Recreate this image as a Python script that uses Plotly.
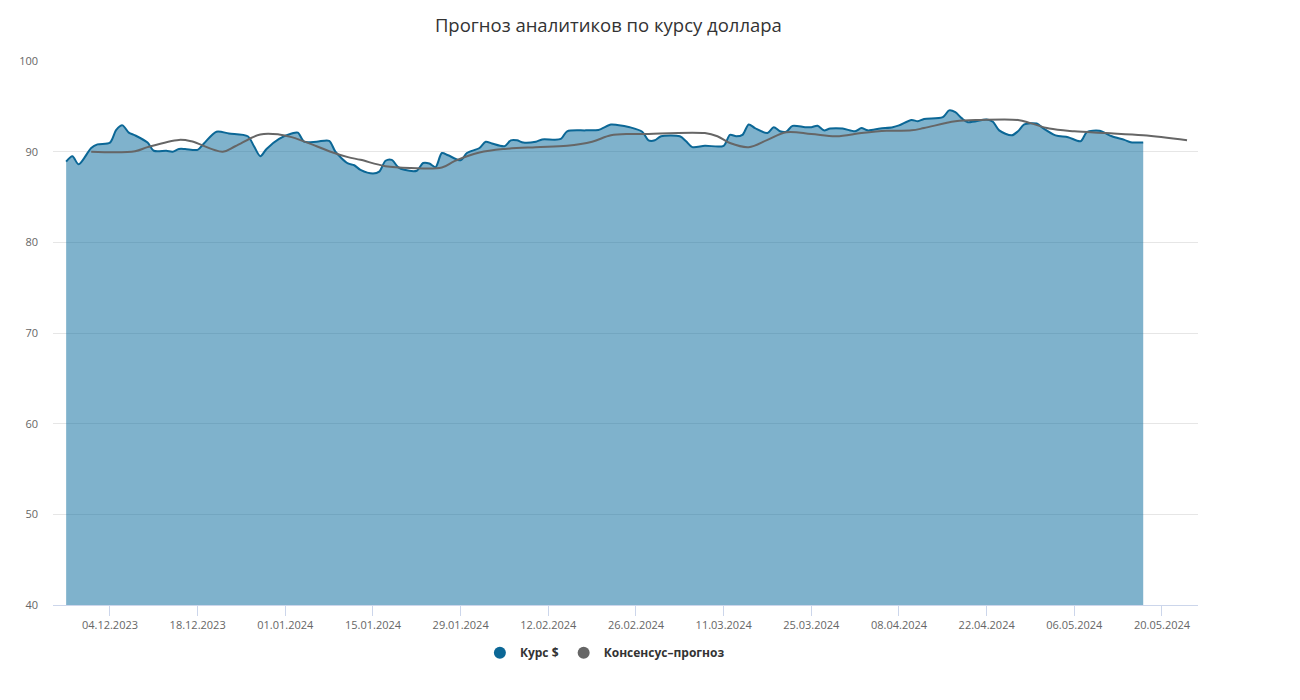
import plotly.graph_objects as go

kurs_dates = [
    "2023-11-27", "2023-11-28", "2023-11-29", "2023-12-01", "2023-12-02", "2023-12-04",
    "2023-12-05", "2023-12-06", "2023-12-07", "2023-12-08", "2023-12-10", "2023-12-11",
    "2023-12-13", "2023-12-14", "2023-12-15", "2023-12-16", "2023-12-18", "2023-12-19",
    "2023-12-21", "2023-12-23", "2023-12-26", "2023-12-27", "2023-12-28", "2023-12-29",
    "2023-12-31", "2024-01-02", "2024-01-03", "2024-01-04", "2024-01-06", "2024-01-08",
    "2024-01-09", "2024-01-11", "2024-01-12", "2024-01-13", "2024-01-15", "2024-01-16",
    "2024-01-17", "2024-01-18", "2024-01-19", "2024-01-20", "2024-01-22", "2024-01-23",
    "2024-01-24", "2024-01-25", "2024-01-26", "2024-01-27", "2024-01-29", "2024-01-30",
    "2024-02-01", "2024-02-02", "2024-02-03", "2024-02-05", "2024-02-06", "2024-02-07",
    "2024-02-08", "2024-02-10", "2024-02-11", "2024-02-14", "2024-02-15", "2024-02-18",
    "2024-02-20", "2024-02-22", "2024-02-23", "2024-02-25", "2024-02-27", "2024-02-28",
    "2024-02-29", "2024-03-01", "2024-03-04", "2024-03-05", "2024-03-06", "2024-03-08",
    "2024-03-11", "2024-03-12", "2024-03-13", "2024-03-14", "2024-03-15", "2024-03-16",
    "2024-03-18", "2024-03-19", "2024-03-20", "2024-03-21", "2024-03-22", "2024-03-24",
    "2024-03-25", "2024-03-26", "2024-03-27", "2024-03-28", "2024-03-30", "2024-04-01",
    "2024-04-02", "2024-04-03", "2024-04-05", "2024-04-07", "2024-04-08", "2024-04-10",
    "2024-04-11", "2024-04-12", "2024-04-15", "2024-04-16", "2024-04-17", "2024-04-18",
    "2024-04-19", "2024-04-22", "2024-04-23", "2024-04-24", "2024-04-26", "2024-04-27",
    "2024-04-28", "2024-04-30", "2024-05-01", "2024-05-03", "2024-05-05", "2024-05-07",
    "2024-05-08", "2024-05-10", "2024-05-12", "2024-05-14", "2024-05-15", "2024-05-17",
]
kurs_values = [
    88.9, 89.5, 88.6, 90.4, 90.8, 91.0,
    92.4, 92.9, 92.1, 91.8, 91.0, 90.1,
    90.1, 90.0, 90.3, 90.3, 90.2, 90.9,
    92.2, 92.0, 91.7, 90.6, 89.5, 90.3,
    91.4, 92.0, 92.1, 91.1, 91.1, 91.2,
    90.0, 88.7, 88.5, 88.0, 87.6, 87.8,
    89.0, 89.1, 88.3, 88.0, 87.9, 88.75,
    88.7, 88.3, 89.85, 89.6, 89.05, 89.85,
    90.4, 91.1, 90.9, 90.6, 91.25, 91.25,
    91.0, 91.1, 91.35, 91.4, 92.25, 92.35,
    92.4, 93.0, 92.95, 92.7, 92.2, 91.25,
    91.25, 91.7, 91.7, 91.15, 90.5, 90.65,
    90.65, 91.85, 91.7, 91.85, 93.0, 92.6,
    92.05, 92.7, 92.25, 92.2, 92.85, 92.7,
    92.7, 92.85, 92.35, 92.55, 92.55, 92.25,
    92.6, 92.35, 92.55, 92.7, 92.9, 93.5,
    93.35, 93.6, 93.8, 94.55, 94.35, 93.7,
    93.25, 93.55, 93.3, 92.35, 91.8, 92.25,
    93.0, 93.1, 92.6, 91.8, 91.6, 91.15,
    92.15, 92.3, 91.7, 91.3, 91.05, 91.0,
]

cons_dates = [
    "2023-12-01", "2023-12-08", "2023-12-10", "2023-12-15", "2023-12-17", "2023-12-22",
    "2023-12-24", "2023-12-28", "2023-12-31", "2024-01-02", "2024-01-06", "2024-01-08",
    "2024-01-11", "2024-01-13", "2024-01-17", "2024-01-21", "2024-01-26", "2024-01-28",
    "2024-02-01", "2024-02-05", "2024-02-10", "2024-02-15", "2024-02-19", "2024-02-22",
    "2024-02-25", "2024-02-27", "2024-03-08", "2024-03-10", "2024-03-12", "2024-03-15",
    "2024-03-18", "2024-03-21", "2024-03-25", "2024-03-29", "2024-04-02", "2024-04-06",
    "2024-04-10", "2024-04-12", "2024-04-17", "2024-04-21", "2024-04-27", "2024-04-29",
    "2024-05-02", "2024-05-06", "2024-05-11", "2024-05-17", "2024-05-24",
]
cons_values = [
    90.0, 90.05, 90.5, 91.3, 91.15, 90.0,
    90.6, 91.9, 91.9, 91.6, 90.6, 90.05,
    89.4, 89.1, 88.4, 88.2, 88.25, 88.95,
    89.9, 90.3, 90.5, 90.65, 91.1, 91.8,
    91.95, 91.95, 92.05, 91.7, 90.95, 90.5,
    91.3, 92.15, 91.95, 91.7, 92.05, 92.3,
    92.35, 92.6, 93.35, 93.5, 93.5, 93.15,
    92.55, 92.25, 92.05, 91.8, 91.25,
]

tick_dates = [
    "2023-12-04", "2023-12-18", "2024-01-01", "2024-01-15", "2024-01-29", "2024-02-12",
    "2024-02-26", "2024-03-11", "2024-03-25", "2024-04-08", "2024-04-22", "2024-05-06",
    "2024-05-20",
]
tick_labels = [
    "04.12.2023", "18.12.2023", "01.01.2024", "15.01.2024", "29.01.2024", "12.02.2024",
    "26.02.2024", "11.03.2024", "25.03.2024", "08.04.2024", "22.04.2024", "06.05.2024",
    "20.05.2024",
]
y_ticks = [40, 50, 60, 70, 80, 90, 100]

series_names = ["Курс $", "Консенсус–прогноз"]
title_text = "Прогноз аналитиков по курсу доллара"

BLUE = "#0b6796"
GRAY = "#666666"
FONT = "Open Sans"

fig = go.Figure()
fig.add_trace(go.Scatter(
    x=kurs_dates, y=kurs_values, mode="lines",
    line=dict(color=BLUE, width=2, shape="spline", smoothing=0.8),
    fill="tozeroy", fillcolor="rgba(0,101,153,0.5)",
    name=series_names[0], showlegend=False,
))
fig.add_trace(go.Scatter(
    x=cons_dates, y=cons_values, mode="lines",
    line=dict(color=GRAY, width=2, shape="spline", smoothing=1.0),
    name=series_names[1], showlegend=False,
))
# legend entries with circle symbols
for nm, col in zip(series_names, [BLUE, GRAY]):
    fig.add_trace(go.Scatter(
        x=[None], y=[None], mode="markers", name=nm,
        marker=dict(color=col, size=13, symbol="circle"),
    ))

fig.update_layout(
    width=1300, height=700,
    paper_bgcolor="white", plot_bgcolor="white",
    margin=dict(l=53, r=102, t=61, b=95),
    font=dict(family=FONT, color="#666666", size=11),
    title=dict(text=title_text, x=0.468, xanchor="center", y=0.963, yanchor="middle",
               font=dict(family=FONT, size=18.5, color="#333333")),
    legend=dict(orientation="h", x=0.482, xanchor="center", y=-0.061, yanchor="top",
                font=dict(family=FONT, size=12, color="#333333", weight="bold"),
                itemsizing="constant", itemwidth=30, tracegroupgap=0),
    showlegend=True,
)
fig.update_xaxes(
    type="date",
    range=["2023-11-24 21:36", "2024-05-25 18:00"],
    tickvals=tick_dates, ticktext=tick_labels,
    showgrid=False, showline=True, linecolor="#ccd6eb", linewidth=1,
    ticks="outside", ticklen=10, tickcolor="#ccd6eb",
    tickfont=dict(family=FONT, size=11, color="#666666"),
    zeroline=False,
)
fig.update_yaxes(
    range=[40, 100], tickvals=y_ticks,
    showgrid=True, gridcolor="#e6e6e6", gridwidth=1,
    showline=False, zeroline=False, ticks="",
    ticklabelstandoff=14,
    tickfont=dict(family=FONT, size=11, color="#666666"),
)

fig.write_html("out.html")
